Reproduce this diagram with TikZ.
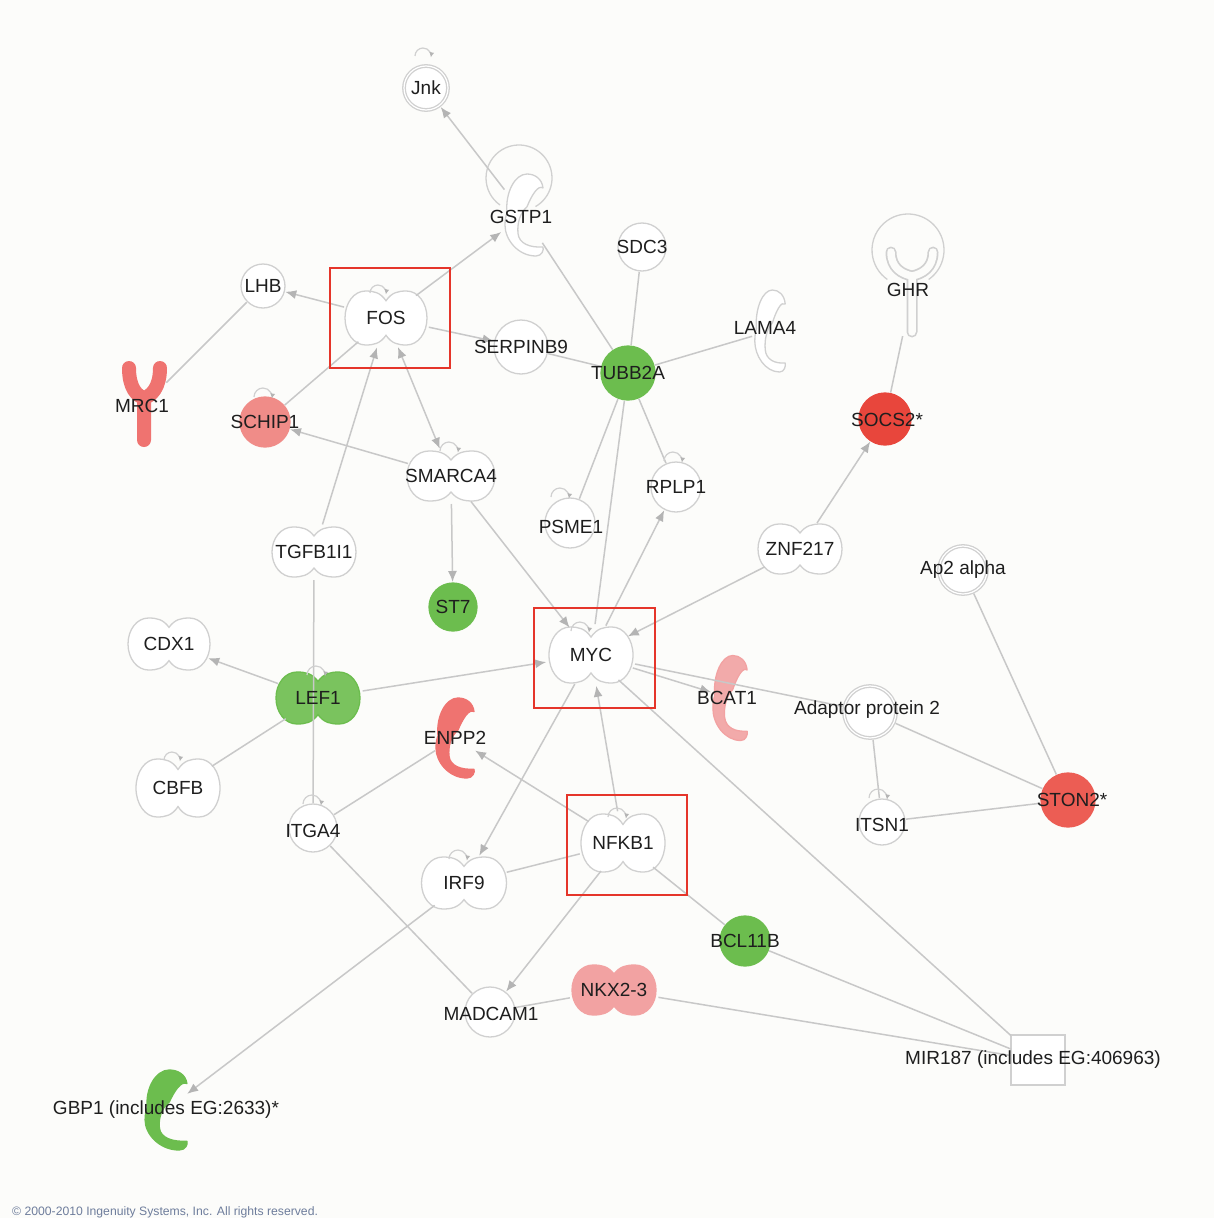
\documentclass[tikz,border=0pt]{standalone}
\usepackage{fontspec}
\setmainfont{Liberation Sans}
\usetikzlibrary{arrows.meta,shapes.geometric}

\definecolor{bgpaper}{HTML}{FCFCFA}
\definecolor{edgegray}{HTML}{C8C8C8}
\definecolor{tipgray}{HTML}{B4B4B4}
\definecolor{outline}{HTML}{D0D0D0}
\definecolor{txt}{HTML}{1E1E1E}
\definecolor{upgreen}{HTML}{6CBD4E}
\definecolor{redstrong}{HTML}{E8463C}
\definecolor{redmid}{HTML}{EC5D54}
\definecolor{redsoft}{HTML}{EF7370}
\definecolor{pinkmid}{HTML}{F08C88}
\definecolor{pinksoft}{HTML}{F2A2A2}
\definecolor{hired}{HTML}{E5352A}
\definecolor{footblue}{HTML}{6E7D9C}

\newcommand\genefont{\fontsize{19}{22}\selectfont}
\newcommand\footfont{\fontsize{12.2}{14}\selectfont}

\pgfdeclarelayer{bglayer}
\pgfdeclarelayer{shapelayer}
\pgfdeclarelayer{edgelayer}
\pgfsetlayers{bglayer,shapelayer,edgelayer,main}

% plain molecule: circle
\newcommand\othdraw[5][]{\path[draw=#5, line width=1.3pt, fill=#4, #1] (#2.center) circle[radius=#3];}
% transcription regulator: two-lobed outline
\newcommand\tregdraw[6][]{\path[draw=#6, line width=1.3pt, fill=#5, shift={(#2.center)}, xscale=#3/2, yscale=#4/2, #1]
  (0,0.64) .. controls (0.14,0.95) and (0.3,1) .. (0.5,1)
  .. controls (0.78,1) and (1,0.56) .. (1,0)
  .. controls (1,-0.56) and (0.78,-1) .. (0.5,-1)
  .. controls (0.3,-1) and (0.14,-0.95) .. (0,-0.64)
  .. controls (-0.14,-0.95) and (-0.3,-1) .. (-0.5,-1)
  .. controls (-0.78,-1) and (-1,-0.56) .. (-1,0)
  .. controls (-1,0.56) and (-0.78,1) .. (-0.5,1)
  .. controls (-0.3,1) and (-0.14,0.95) .. (0,0.64) -- cycle;}
% enzyme: hooked top arch and crescent bottom
\newcommand\enzdraw[6][]{\path[draw=#6, line width=1.3pt, fill=#5, line join=round, shift={(#2.center)}, xscale=#3/2, yscale=#4/2, #1]
  (-0.85,0.05) .. controls (-0.95,0.55) and (-0.45,1.0) .. (0.15,1.0)
  .. controls (0.55,1.0) and (0.9,0.88) .. (0.95,0.66)
  .. controls (0.7,0.74) and (0.38,0.48) .. (0.15,0.2)
  .. controls (-0.2,0.05) and (-0.35,-0.2) .. (-0.3,-0.45)
  .. controls (-0.25,-0.7) and (0.3,-0.8) .. (0.95,-0.78)
  .. controls (1.0,-0.85) and (0.9,-1.0) .. (0.6,-1.0)
  .. controls (-0.3,-1.0) and (-0.95,-0.6) .. (-0.95,-0.25)
  .. controls (-0.95,-0.1) and (-0.9,0.0) .. (-0.85,0.05) -- cycle;}
% small regulation loop above a molecule
\newcommand\selfloop[4]{\draw[loopline] ([shift={(#2-#4,#3)}]#1.center) arc[start angle=180, end angle=-10, radius=#4];}

\tikzset{
  anchorshape/.style 2 args={ellipse, minimum width=#1, minimum height=#2, inner sep=0pt, outer sep=1pt},
  lbl/.style={font=\genefont, text=txt, inner sep=0pt},
  link/.style={draw=edgegray, line width=1.5pt},
  act/.style={link, -{Latex[length=11pt,width=9pt,color=tipgray]}},
  dual/.style={link, {Latex[length=11pt,width=9pt,color=tipgray]}-{Latex[length=11pt,width=9pt,color=tipgray]}},
  loopline/.style={draw=outline, line width=1.2pt, -{Latex[length=5pt,width=5pt,color=tipgray]}},
  hilite/.style={draw=hired, line width=1.6pt},
}

\begin{document}
\begin{tikzpicture}[x=1pt,y=1pt]
\begin{pgfonlayer}{bglayer}
  \fill[bgpaper] (0,0) rectangle (1214,-1218);
\end{pgfonlayer}
\useasboundingbox (0,0) rectangle (1214,-1218);

% ---------- molecules ----------
\node[anchorshape={46pt}{46pt}, label={[lbl,name=jnk-t]center:Jnk}] (jnk) at (426,-88) {};
\node[anchorshape={48pt}{80pt}, label={[lbl,name=gstp1-t,xshift=-3pt,yshift=-2pt]center:GSTP1}] (gstp1) at (524,-215) {};
\node[anchorshape={48pt}{48pt}, label={[lbl,name=sdc3-t]center:SDC3}] (sdc3) at (642,-247) {};
\node[anchorshape={44pt}{44pt}, label={[lbl,name=lhb-t]center:LHB}] (lhb) at (263,-286) {};
\node[anchorshape={88pt}{58pt}, label={[lbl,name=fos-t]center:FOS}] (fos) at (386,-318) {};
\node[anchorshape={54pt}{54pt}, label={[lbl,name=serpinb9-t]center:SERPINB9}] (serpinb9) at (521,-347) {};
\node[anchorshape={54pt}{54pt}, label={[lbl,name=tubb2a-t]center:TUBB2A}] (tubb2a) at (628,-373) {};
\node[anchorshape={34pt}{82pt}, label={[lbl,name=lama4-t,xshift=-5pt,yshift=3pt]center:LAMA4}] (lama4) at (770,-331) {};
\node[anchorshape={64pt}{90pt}, label={[lbl,name=ghr-t,xshift=-4pt,yshift=2pt]center:GHR}] (ghr) at (912,-292) {};
\node[anchorshape={50pt}{85pt}, label={[lbl,name=mrc1-t,xshift=-2pt,yshift=-1pt]center:MRC1}] (mrc1) at (144,-405) {};
\node[anchorshape={50pt}{50pt}, label={[lbl,name=schip1-t]center:SCHIP1}] (schip1) at (265,-422) {};
\node[anchorshape={52pt}{52pt}, label={[lbl,name=socs2-t,xshift=2pt,yshift=-1pt]center:SOCS2*}] (socs2) at (885,-419) {};
\node[anchorshape={94pt}{54pt}, label={[lbl,name=smarca4-t]center:SMARCA4}] (smarca4) at (451,-476) {};
\node[anchorshape={50pt}{50pt}, label={[lbl,name=rplp1-t]center:RPLP1}] (rplp1) at (676,-487) {};
\node[anchorshape={50pt}{50pt}, label={[lbl,name=psme1-t,xshift=1pt,yshift=-4pt]center:PSME1}] (psme1) at (570,-523) {};
\node[anchorshape={90pt}{54pt}, label={[lbl,name=tgfb1i1-t]center:TGFB1I1}] (tgfb1i1) at (314,-552) {};
\node[anchorshape={90pt}{54pt}, label={[lbl,name=znf217-t]center:ZNF217}] (znf217) at (800,-549) {};
\node[anchorshape={50pt}{50pt}, label={[lbl,name=ap2-t]center:Ap2 alpha}] (ap2) at (963,-570) {};
\node[anchorshape={48pt}{48pt}, label={[lbl,name=st7-t]center:ST7}] (st7) at (453,-607) {};
\node[anchorshape={88pt}{56pt}, label={[lbl,name=cdx1-t]center:CDX1}] (cdx1) at (169,-644) {};
\node[anchorshape={90pt}{60pt}, label={[lbl,name=myc-t]center:MYC}] (myc) at (591,-655) {};
\node[anchorshape={90pt}{56pt}, label={[lbl,name=lef1-t]center:LEF1}] (lef1) at (318,-698) {};
\node[anchorshape={36pt}{85pt}, label={[lbl,name=bcat1-t,xshift=-3pt]center:BCAT1}] (bcat1) at (730,-698) {};
\node[anchorshape={54pt}{54pt}, label={[lbl,name=adp2-t,xshift=-3pt,yshift=2pt]center:Adaptor protein 2}] (adp2) at (870,-712) {};
\node[anchorshape={40pt}{80pt}, label={[lbl,name=enpp2-t]center:ENPP2}] (enpp2) at (455,-738) {};
\node[anchorshape={90pt}{62pt}, label={[lbl,name=cbfb-t]center:CBFB}] (cbfb) at (178,-788) {};
\node[anchorshape={54pt}{54pt}, label={[lbl,name=ston2-t,xshift=4pt]center:STON2*}] (ston2) at (1068,-800) {};
\node[anchorshape={46pt}{46pt}, label={[lbl,name=itsn1-t,yshift=-3pt]center:ITSN1}] (itsn1) at (882,-822) {};
\node[anchorshape={48pt}{48pt}, label={[lbl,name=itga4-t,yshift=-3pt]center:ITGA4}] (itga4) at (313,-828) {};
\node[anchorshape={90pt}{62pt}, label={[lbl,name=nfkb1-t]center:NFKB1}] (nfkb1) at (623,-843) {};
\node[anchorshape={90pt}{56pt}, label={[lbl,name=irf9-t]center:IRF9}] (irf9) at (464,-883) {};
\node[anchorshape={50pt}{50pt}, label={[lbl,name=bcl11b-t]center:BCL11B}] (bcl11b) at (745,-941) {};
\node[anchorshape={90pt}{54pt}, label={[lbl,name=nkx23-t]center:NKX2-3}] (nkx23) at (614,-990) {};
\node[anchorshape={50pt}{50pt}, label={[lbl,name=madcam1-t,xshift=1pt,yshift=-2pt]center:MADCAM1}] (madcam1) at (490,-1012) {};
\node[rectangle, minimum width=52pt, minimum height=48pt, inner sep=0pt, outer sep=1pt,
      label={[lbl,name=mir187-t,xshift=-5pt]center:{MIR187 (includes EG:406963)}}] (mir187) at (1038,-1060) {};
\node[anchorshape={44pt}{80pt}, label={[lbl,name=gbp1-t]center:{GBP1 (includes EG:2633)*}}] (gbp1) at (166,-1110) {};

\node[anchor=west, font=\footfont, text=footblue, inner sep=0pt] (copyright) at (12,-1212)
  {© 2000-2010 Ingenuity Systems, Inc. All rights reserved.};

% ---------- molecule shapes ----------
\begin{pgfonlayer}{shapelayer}
  \othdraw[double=white, double distance=1.2pt]{jnk}{22}{white}{outline}
  \path[draw=outline, line width=1.3pt] ([shift={(-5,37)}]gstp1.center) ++(-60:33) arc[start angle=-60, end angle=235, radius=33];
  \enzdraw{gstp1}{40}{82}{white}{outline}
  \othdraw{sdc3}{24}{white}{outline}
  \othdraw{lhb}{22}{white}{outline}
  \tregdraw{fos}{82}{54}{white}{outline}
  \othdraw{serpinb9}{27}{white}{outline}
  \othdraw{tubb2a}{27}{upgreen}{upgreen}
  \enzdraw{lama4}{32}{82}{white}{outline}
  % growth hormone receptor: loop and Y outline
  \path[draw=outline, line width=1.3pt] ([shift={(-4,42)}]ghr.center) ++(-55:36) arc[start angle=-55, end angle=235, radius=36];
  \path[draw=outline, line width=11pt, line cap=round, line join=round, shift={(ghr.center)}]
     (-21,40) .. controls (-21,24) and (-10,18) .. (0,16) -- (0,-40)
     (21,40) .. controls (21,24) and (10,18) .. (0,16);
  \path[draw=bgpaper, line width=7.5pt, line cap=round, line join=round, shift={(ghr.center)}]
     (-21,40) .. controls (-21,24) and (-10,18) .. (0,16) -- (0,-40)
     (21,40) .. controls (21,24) and (10,18) .. (0,16);
  % mannose receptor: filled Y
  \path[draw=redsoft, line width=14pt, line cap=round, line join=round, shift={(mrc1.center)}]
     (-15,37) .. controls (-15,17) and (-7,9) .. (0,7) -- (0,-35)
     (16,37) .. controls (16,17) and (7,9) .. (0,7);
  \othdraw{schip1}{25}{pinkmid}{pinkmid}
  \othdraw{socs2}{26}{redstrong}{redstrong}
  \tregdraw{smarca4}{88}{50}{white}{outline}
  \othdraw{rplp1}{25}{white}{outline}
  \othdraw{psme1}{25}{white}{outline}
  \tregdraw{tgfb1i1}{84}{50}{white}{outline}
  \tregdraw{znf217}{84}{50}{white}{outline}
  \othdraw[double=white, double distance=1.2pt]{ap2}{24}{white}{outline}
  \othdraw{st7}{24}{upgreen}{upgreen}
  \tregdraw{cdx1}{82}{52}{white}{outline}
  \tregdraw{myc}{84}{56}{white}{outline}
  \tregdraw[fill opacity=0.9]{lef1}{84}{52}{upgreen}{upgreen}
  \enzdraw[fill opacity=0.9]{bcat1}{36}{85}{pinksoft}{pinksoft}
  \othdraw[double=white, double distance=1.2pt]{adp2}{26}{white}{outline}
  \enzdraw{enpp2}{40}{80}{redsoft}{redsoft}
  \tregdraw{cbfb}{84}{58}{white}{outline}
  \othdraw{ston2}{27}{redmid}{redmid}
  \othdraw{itsn1}{23}{white}{outline}
  \othdraw{itga4}{24}{white}{outline}
  \tregdraw{nfkb1}{84}{58}{white}{outline}
  \tregdraw{irf9}{85}{52}{white}{outline}
  \othdraw{bcl11b}{25}{upgreen}{upgreen}
  \tregdraw{nkx23}{84}{50}{pinksoft}{pinksoft}
  \othdraw{madcam1}{25}{white}{outline}
  \path[draw=outline, line width=1.2pt, fill=white] (mir187.south west) rectangle (mir187.north east);
  \enzdraw{gbp1}{44}{80}{upgreen}{upgreen}
\end{pgfonlayer}

% ---------- relationships ----------
\begin{pgfonlayer}{edgelayer}
  \draw[act] (gstp1) -- (jnk);
  \draw[act] (fos) -- (gstp1);
  \draw[act] (fos) -- (lhb);
  \draw[act] (fos) -- (serpinb9);
  \draw[link] (serpinb9) -- (tubb2a);
  \draw[link] (gstp1) -- (tubb2a);
  \draw[link] (sdc3) -- (tubb2a);
  \draw[link] (lama4) -- (tubb2a);
  \draw[link] (tubb2a) -- (psme1);
  \draw[link] (tubb2a) -- (rplp1);
  \draw[link] (tubb2a) -- (myc);
  \draw[act] (myc) -- (rplp1);
  \draw[act] (znf217) -- (socs2);
  \draw[act] (znf217) -- (myc);
  \draw[dual] (smarca4) -- (fos);
  \draw[act] (tgfb1i1) -- (fos);
  \draw[link] (schip1) -- (fos);
  \draw[link] (lhb) -- (mrc1);
  \draw[act] (smarca4) -- (schip1);
  \draw[act] (smarca4) -- (st7);
  \draw[act] (smarca4) -- (myc);
  \draw[act] (lef1) -- (myc);
  \draw[act] (lef1) -- (cdx1);
  \draw[link] (cbfb) -- (lef1);
  \draw[link] (tgfb1i1) -- (itga4);
  \draw[link] (itga4) -- (enpp2);
  \draw[act] (nfkb1) -- (enpp2);
  \draw[act] (nfkb1) -- (myc);
  \draw[act] (myc) -- (irf9);
  \draw[link] (irf9) -- (nfkb1);
  \draw[act] (irf9) -- (gbp1);
  \draw[link] (itga4) -- (madcam1);
  \draw[act] (nfkb1) -- (madcam1);
  \draw[link] (nkx23) -- (madcam1);
  \draw[link] (nfkb1) -- (bcl11b);
  \draw[act] (myc) -- (bcat1);
  \draw[link] (myc) -- (adp2);
  \draw[link] (myc) -- (mir187);
  \draw[link] (adp2) -- (ston2);
  \draw[link] (adp2) -- (itsn1);
  \draw[link] (itsn1) -- (ston2);
  \draw[link] (ap2) -- (ston2);
  \draw[link] (ghr) -- (socs2);
  \draw[link] (bcl11b) -- (mir187);
  \draw[link] (nkx23) -- (mir187);
  % self-regulation loops
  \selfloop{jnk}{-3}{32}{8}
  \selfloop{fos}{-8}{25}{8}
  \selfloop{smarca4}{-2}{25}{9}
  \selfloop{rplp1}{-3}{26}{9}
  \selfloop{psme1}{-10}{26}{9}
  \selfloop{schip1}{-2}{25}{9}
  \selfloop{myc}{-11}{24}{9}
  \selfloop{lef1}{-2}{23}{9}
  \selfloop{nfkb1}{-6}{26}{9}
  \selfloop{irf9}{-6}{24}{9}
  \selfloop{itga4}{-1}{24}{9}
  \selfloop{itsn1}{-4}{24}{9}
  \selfloop{cbfb}{-6}{28}{8}
\end{pgfonlayer}

% ---------- highlighted molecules ----------
\draw[hilite] ([shift={(-56,50)}]fos.center) rectangle ([shift={(64,-50)}]fos.center);
\draw[hilite] ([shift={(-57,47)}]myc.center) rectangle ([shift={(64,-53)}]myc.center);
\draw[hilite] ([shift={(-56,48)}]nfkb1.center) rectangle ([shift={(64,-52)}]nfkb1.center);
\end{tikzpicture}
\end{document}
